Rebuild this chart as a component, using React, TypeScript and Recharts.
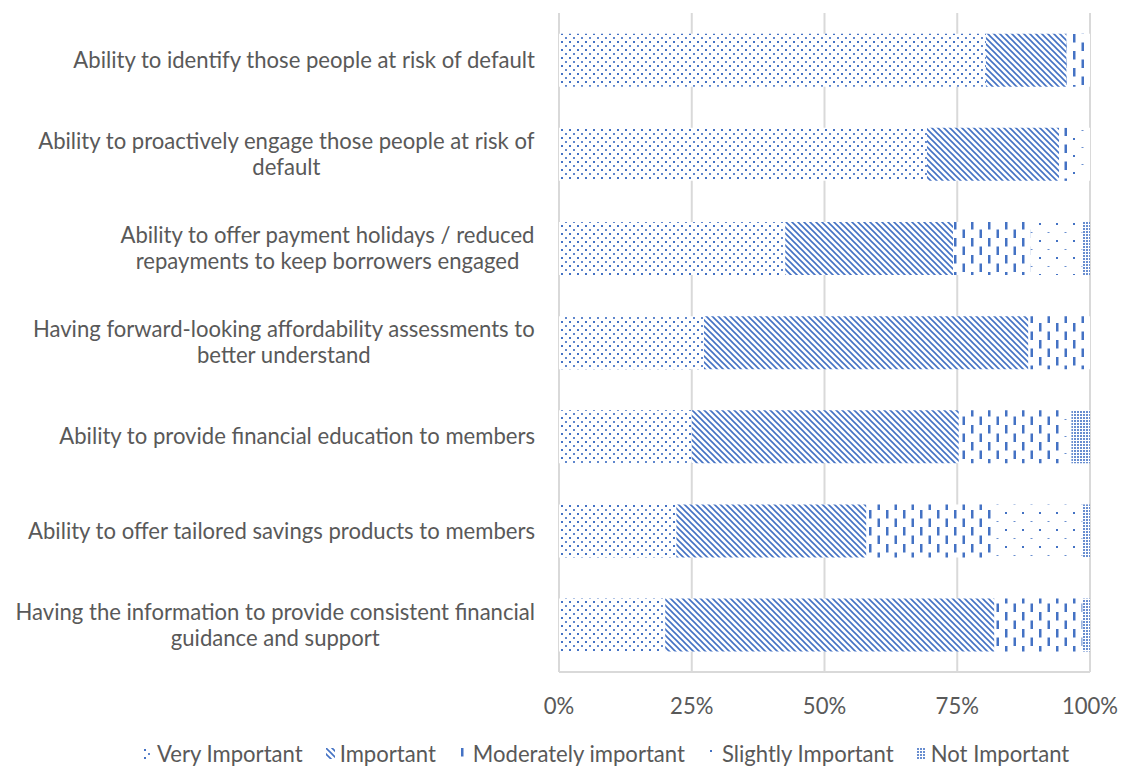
import React from "react";
import { BarChart, Bar, XAxis, YAxis, CartesianGrid, Legend } from "recharts";

const categories = [
  "Ability to identify those people at risk of default",
  "Ability to proactively engage those people at risk of\ndefault",
  "Ability to offer payment holidays / reduced\nrepayments to keep borrowers engaged",
  "Having forward-looking affordability assessments to\nbetter understand",
  "Ability to provide financial education to members",
  "Ability to offer tailored savings products to members",
  "Having the information to provide consistent financial\nguidance and support",
];

const veryImportant = [80.4, 69.3, 42.6, 27.3, 25.0, 22.1, 20.0];
const important = [15.2, 24.9, 31.6, 61.1, 50.3, 35.8, 62.0];
const moderatelyImportant = [4.4, 2.4, 14.6, 11.6, 19.0, 24.1, 16.6];
const slightlyImportant = [0, 3.4, 9.8, 0, 2.2, 16.6, 0];
const notImportant = [0, 0, 1.4, 0, 3.5, 1.4, 1.4];

const seriesNames = [
  "Very Important",
  "Important",
  "Moderately important",
  "Slightly Important",
  "Not Important",
];
const seriesKeys = ["vi", "im", "mi", "si", "ni"];
const xTicks = [0, 25, 50, 75, 100];

const data = categories.map((c, i) => ({
  name: c,
  vi: veryImportant[i],
  im: important[i],
  mi: moderatelyImportant[i],
  si: slightlyImportant[i],
  ni: notImportant[i],
}));

const BLUE = "#4472C4";
const TEXT = "#595959";
const FONT = "Lato, 'Open Sans', sans-serif";

let ctx: CanvasRenderingContext2D | null = null;
function measure(s: string, size: number): number {
  if (!ctx) {
    const c = document.createElement("canvas");
    ctx = c.getContext("2d");
  }
  if (!ctx) return s.length * size * 0.5;
  ctx.font = `${size}px ${FONT}`;
  return ctx.measureText(s).width;
}

const FS = (() => {
  const w = measure("Ability to identify those people at risk of default", 18.67);
  return w > 0 ? (18.67 * 463) / w : 18;
})();

const YTick = (props: any) => {
  const { x, y, payload } = props;
  const lines = String(payload.value).split("\n");
  const widths = lines.map((l) => measure(l, FS));
  const blockW = Math.max(...widths);
  const right = x - 24;
  const cx = right - blockW / 2;
  const lh = 26;
  const y0 = y - ((lines.length - 1) * lh) / 2;
  return (
    <text
      textAnchor={lines.length > 1 ? "middle" : "end"}
      fill={TEXT}
      fontSize={FS}
      fontFamily={FONT}
    >
      {lines.map((l, i) => (
        <tspan key={i} x={lines.length > 1 ? cx : right} y={y0 + i * lh} dy="0.35em">
          {l}
        </tspan>
      ))}
    </text>
  );
};

const patternIds = ["pVI", "pIM", "pMI", "pSI", "pNI"];

const Patterns = () => (
  <defs>
    <pattern id="pVI" width="8" height="8" patternUnits="userSpaceOnUse">
      <rect width="8" height="8" fill="#fff" />
      <rect x="1" y="1" width="2" height="2" fill={BLUE} />
      <rect x="5" y="5" width="2" height="2" fill={BLUE} opacity="0.85" />
    </pattern>
    <pattern id="pIM" width="6" height="6" patternUnits="userSpaceOnUse">
      <rect width="6" height="6" fill="#fff" />
      <path d="M-1,-1 L7,7 M-1,5 L1,7 M5,-1 L7,1" stroke={BLUE} strokeWidth="1.6" />
    </pattern>
    <pattern id="pMI" width="17" height="17" patternUnits="userSpaceOnUse">
      <rect width="17" height="17" fill="#fff" />
      <rect x="2" y="0" width="2.5" height="8.5" fill={BLUE} />
      <rect x="10.5" y="8.5" width="2.5" height="8.5" fill={BLUE} />
    </pattern>
    <pattern id="pSI" width="17" height="17" patternUnits="userSpaceOnUse">
      <rect width="17" height="17" fill="#fff" />
      <rect x="2" y="2" width="2" height="2" fill={BLUE} />
      <rect x="10.5" y="11" width="2" height="1" fill={BLUE} opacity="0.8" />
    </pattern>
    <pattern id="pNI" width="3" height="3" patternUnits="userSpaceOnUse">
      <rect width="3" height="3" fill="#fff" />
      <rect x="0" y="0" width="2" height="2" fill={BLUE} opacity="0.8" />
    </pattern>
  </defs>
);

const LegendContent = () => (
  <div
    style={{
      display: "flex",
      justifyContent: "flex-start",
      alignItems: "center",
      paddingLeft: 143,
      gap: 23,
      fontFamily: FONT,
      fontSize: FS,
      color: TEXT,
      whiteSpace: "nowrap",
    }}
  >
    {seriesNames.map((n, i) => (
      <div key={n} style={{ display: "flex", alignItems: "center" }}>
        <svg width={9} height={11} style={{ marginRight: 5 }}>
          <rect width={9} height={11} fill={`url(#${patternIds[i]})`} />
        </svg>
        <span>{n}</span>
      </div>
    ))}
  </div>
);

export default function App() {
  return (
    <div style={{ position: "absolute", left: 0, top: 0, width: 1125, height: 768, background: "#fff" }}>
      <BarChart
        width={1125}
        height={768}
        data={data}
        layout="vertical"
        barCategoryGap="22%"
        margin={{ top: 13, right: 35, bottom: 0, left: 0 }}
      >
        <Patterns />
        <CartesianGrid horizontal={false} vertical={true} stroke="#d9d9d9" strokeWidth={2} />
        <XAxis
          type="number"
          domain={[0, 100]}
          ticks={xTicks}
          tickFormatter={(v: number) => `${v}%`}
          axisLine={{ stroke: "#d9d9d9", strokeWidth: 2 }}
          tickLine={false}
          tickSize={0}
          tickMargin={26}
          height={68}
          tick={{ fill: TEXT, fontSize: FS, fontFamily: FONT }}
          interval={0}
        />
        <YAxis
          type="category"
          dataKey="name"
          width={559}
          axisLine={false}
          tickLine={false}
          tickSize={0}
          tickMargin={0}
          tick={<YTick />}
          interval={0}
        />
        <Legend verticalAlign="bottom" height={28} content={<LegendContent />} />
        {seriesKeys.map((k, i) => (
          <Bar
            key={k}
            dataKey={k}
            name={seriesNames[i]}
            stackId="a"
            fill={`url(#${patternIds[i]})`}
            isAnimationActive={false}
          />
        ))}
      </BarChart>
    </div>
  );
}
